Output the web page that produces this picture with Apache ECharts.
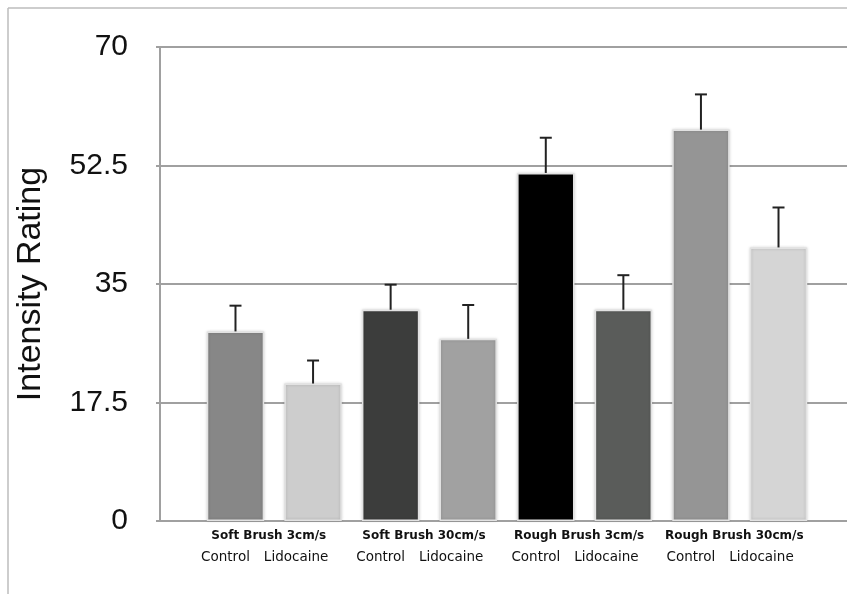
<!DOCTYPE html>
<html><head><meta charset="utf-8">
<script src="https://cdn.jsdelivr.net/npm/echarts@6/dist/echarts.min.js"></script>
<style>html,body{margin:0;padding:0;background:#fff}#c{width:847px;height:594px}</style>
</head><body><div id="c"></div>
<script>
const groups = ['Soft Brush 3cm/s', 'Soft Brush 30cm/s', 'Rough Brush 3cm/s', 'Rough Brush 30cm/s'];
const conditions = ['Control', 'Lidocaine', 'Control', 'Lidocaine', 'Control', 'Lidocaine', 'Control', 'Lidocaine'];
const means = [28.0, 20.3, 31.2, 26.9, 51.4, 31.2, 57.8, 40.4];
const errors = [3.8, 3.4, 3.7, 5.0, 5.2, 5.1, 5.2, 5.9];
const barColors = ['#878787', '#cdcdcd', '#3c3d3c', '#a1a1a1', '#000000', '#5a5c5a', '#959595', '#d5d5d5'];
const yTicks = [0, 17.5, 35, 52.5, 70];
const yTitle = 'Intensity Rating';

const chart = echarts.init(document.getElementById('c'), null, {renderer: 'canvas'});
const gridTop = 47, gridBottom = 73;
chart.setOption({
  animation: false,
  backgroundColor: '#fff',
  grid: [
    {left: 160, right: 0, top: gridTop, bottom: gridBottom, containLabel: false},
    {left: 196.7, right: 29.7, top: gridTop, bottom: gridBottom, containLabel: false}
  ],
  xAxis: [
    {type: 'category', gridIndex: 0, data: [''], axisLine: {show: true, lineStyle: {color: '#a0a0a0', width: 2}},
     axisTick: {show: false}, axisLabel: {show: false}},
    {type: 'category', gridIndex: 1, position: 'bottom', data: conditions, axisLine: {show: false}, axisTick: {show: false},
     axisLabel: {interval: 0, hideOverlap: false, margin: 29, fontFamily: 'DejaVu Sans', fontSize: 13.5, color: '#111',
       formatter: (v, i) => (i % 2 === 0 ? '{c|' + v + '}' : '{l|' + v + '}'),
       rich: {c: {fontFamily: 'DejaVu Sans', fontSize: 13.5, color: '#111', padding: [0, 20, 0, 0]},
              l: {fontFamily: 'DejaVu Sans', fontSize: 13.5, color: '#111', padding: [0, 34, 0, 0]}}}},
    {type: 'category', gridIndex: 1, position: 'bottom', data: groups, axisLine: {show: false}, axisTick: {show: false},
     axisLabel: {interval: 0, hideOverlap: false, margin: 9, fontFamily: 'DejaVu Sans', fontWeight: 'bold', fontSize: 12, color: '#111', padding: [0, 11, 0, 0]}}
  ],
  yAxis: [
    {type: 'value', gridIndex: 0, min: 0, max: 70, interval: 17.5,
     name: yTitle, nameLocation: 'middle', nameRotate: 90, nameGap: 112,
     nameTextStyle: {fontFamily: 'Liberation Sans', fontSize: 34, color: '#111'},
     axisLine: {show: true, lineStyle: {color: '#a0a0a0', width: 2}},
     axisTick: {show: true, length: 4, lineStyle: {color: '#a0a0a0', width: 2}},
     axisLabel: {margin: 32, fontFamily: 'Liberation Sans', fontSize: 30, color: '#111',
       formatter: v => (yTicks.indexOf(v) >= 0 ? String(v) : '')},
     splitLine: {show: true, lineStyle: {color: '#a0a0a0', width: 2}}},
    {type: 'value', gridIndex: 1, min: 0, max: 70, interval: 17.5, show: false, splitLine: {show: false}}
  ],
  series: [
    {type: 'bar', xAxisIndex: 1, yAxisIndex: 1, barCategoryGap: '26%',
     data: means.map((v, i) => ({value: v, itemStyle: {color: barColors[i]}})),
     itemStyle: {borderColor: '#e2e2e2', borderWidth: 1.5, shadowBlur: 3, shadowColor: 'rgba(0,0,0,0.18)'},
     z: 3},
    {type: 'custom', xAxisIndex: 1, yAxisIndex: 1, z: 4,
     data: means.map((v, i) => [i, v, v + errors[i]]),
     renderItem: (params, api) => {
       const base = api.coord([api.value(0), api.value(1)]);
       const top = api.coord([api.value(0), api.value(2)]);
       const hw = 6;
       return {type: 'group', children: [
         {type: 'line', shape: {x1: base[0], y1: base[1], x2: top[0], y2: top[1]}, style: {stroke: '#222', lineWidth: 2}},
         {type: 'line', shape: {x1: top[0] - hw, y1: top[1], x2: top[0] + hw, y2: top[1]}, style: {stroke: '#222', lineWidth: 2}}
       ]};
     }}
  ],
  graphic: [
    {type: 'line', shape: {x1: 8, y1: 8, x2: 847, y2: 8}, style: {stroke: '#bdbdbd', lineWidth: 1.5}},
    {type: 'line', shape: {x1: 8, y1: 8, x2: 8, y2: 594}, style: {stroke: '#bdbdbd', lineWidth: 1.5}}
  ]
});
</script></body></html>
